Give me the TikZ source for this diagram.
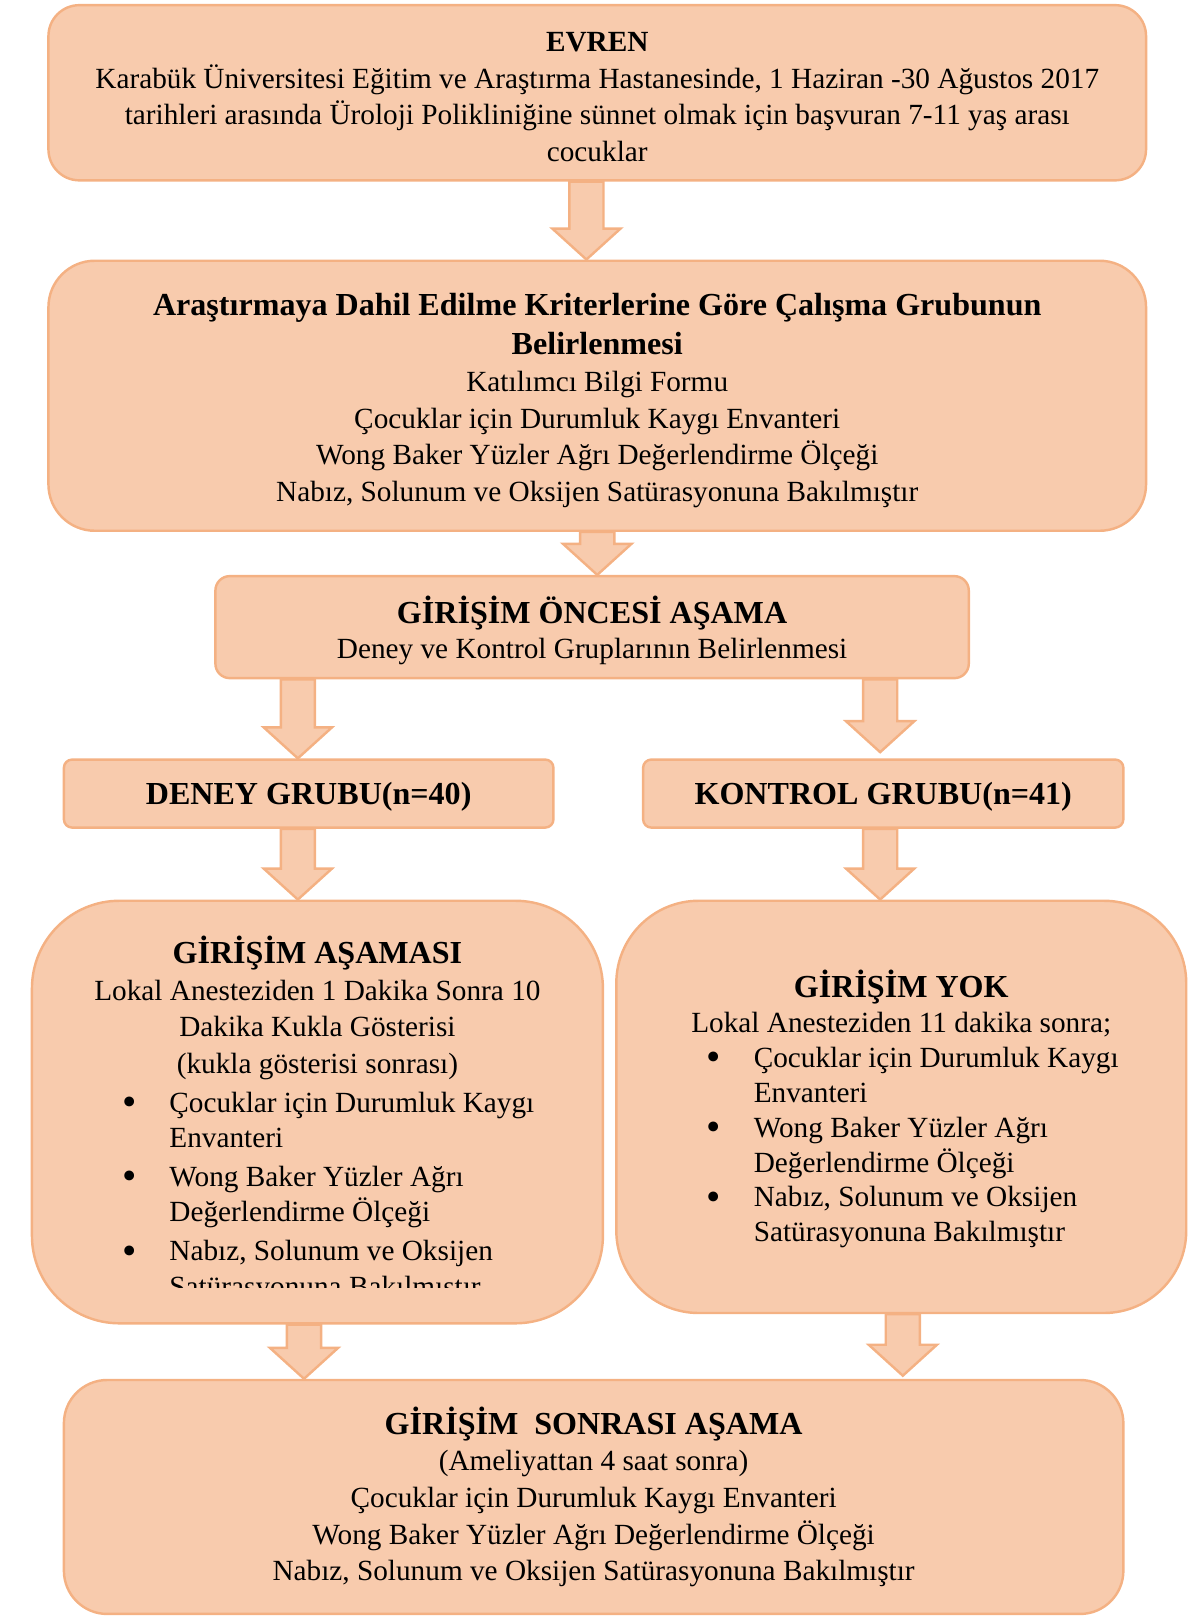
\documentclass[tikz,border=0pt]{standalone}
\usepackage{fontspec}
\setmainfont{Liberation Serif}
\usepackage{tikz}
\usetikzlibrary{calc}
\definecolor{dolgu}{HTML}{F8CBAD}
\definecolor{cizgi}{HTML}{F4B183}
\def\bp{0.4226pt}
\tikzset{
  font={\fontsize{12pt}{15pt}\selectfont}}
\tikzset{
  kutu/.style={draw=cizgi, fill=dolgu, line width=1pt, inner sep=0pt, align=center},
  blokok/.style={draw=cizgi, fill=dolgu, line width=1pt, line join=miter},
  liste/.style={inner sep=0pt, align=left}}
\newcommand{\kalin}[1]{{\bfseries\fontsize{13.15pt}{15pt}\selectfont #1}}
\newcommand{\ust}[1]{\rule{0pt}{#1}}
\newlength{\maddeara}\setlength{\maddeara}{19.4pt}
\newcommand{\madde}[2]{\makebox[\maddeara][l]{\raisebox{-1.4pt}{\scalebox{1.4}{•}}}#1\\\hspace*{\maddeara}#2}
\newcommand{\okciz}[2]{%
  \filldraw[blokok] let \p1=(#1), \p2=(#2) in
    (\x1-7pt,\y1) -- (\x1-7pt,\y2+12.7pt) -- (\x1-14pt,\y2+12.7pt) -- (\x1,\y2)
    -- (\x1+14pt,\y2+12.7pt) -- (\x1+7pt,\y2+12.7pt) -- (\x1+7pt,\y1) -- cycle;}

\begin{document}
\begin{tikzpicture}[x=0.4226pt, y=-0.4226pt]
\useasboundingbox (0,0) rectangle (1162,1568);
\node[kutu, minimum width=1065*\bp, minimum height=170*\bp, rounded corners=30*\bp] (evren) at (579.5,90)
  {\ust{11.3pt}\textbf{EVREN}\\Karabük Üniversitesi Eğitim ve Araştırma Hastanesinde, 1 Haziran -30 Ağustos 2017\\tarihleri arasında Üroloji Polikliniğine sünnet olmak için başvuran 7-11 yaş arası\\cocuklar};
\node[kutu, minimum width=1065*\bp, minimum height=262*\bp, rounded corners=45*\bp] (kriter) at (579.5,384)
  {\ust{13.1pt}\kalin{Araştırmaya Dahil Edilme Kriterlerine Göre Çalışma Grubunun}\\[1pt]\kalin{Belirlenmesi}\\Katılımcı Bilgi Formu\\Çocuklar için Durumluk Kaygı Envanteri\\Wong Baker Yüzler Ağrı Değerlendirme Ölçeği\\Nabız, Solunum ve Oksijen Satürasyonuna Bakılmıştır};
\node[kutu, minimum width=731*\bp, minimum height=99*\bp, rounded corners=14*\bp] (oncesi) at (574.5,608.5)
  {\ust{13.7pt}\kalin{GİRİŞİM ÖNCESİ AŞAMA}\\[-0.6pt]Deney ve Kontrol Gruplarının Belirlenmesi};
\node[kutu, minimum width=475*\bp, minimum height=66*\bp, rounded corners=8*\bp] (deney) at (299.5,770)
  {\ust{11.5pt}\kalin{DENEY GRUBU(n=40)}};
\node[kutu, minimum width=466*\bp, minimum height=66*\bp, rounded corners=8*\bp] (kontrol) at (857,770)
  {\ust{11.5pt}\kalin{KONTROL GRUBU(n=41)}};
\node[kutu, minimum width=554*\bp, minimum height=410*\bp, rounded corners=85*\bp] (asama) at (308,1079) {};
\node[kutu, minimum width=553*\bp, minimum height=400*\bp, rounded corners=80*\bp] (yok) at (874.5,1074) {};
\node[kutu, minimum width=1028*\bp, minimum height=227*\bp, rounded corners=42*\bp] (sonrasi) at (576,1452.5)
  {\kalin{GİRİŞİM~ SONRASI AŞAMA}\\(Ameliyattan 4 saat sonra)\\Çocuklar için Durumluk Kaygı Envanteri\\Wong Baker Yüzler Ağrı Değerlendirme Ölçeği\\Nabız, Solunum ve Oksijen Satürasyonuna Bakılmıştır};

\node[inner sep=0pt, align=center] (asamabas) at (308,978)
  {\kalin{GİRİŞİM AŞAMASI}\\Lokal Anesteziden 1 Dakika Sonra 10\\Dakika Kukla Gösterisi\\(kukla gösterisi sonrası)};
\begin{scope}
\clip (31,874) rectangle (585,1249);
\node[liste, anchor=west, font={\fontsize{12pt}{14.5pt}\selectfont}] (asamaliste) at (118,1161.5)
  {\madde{Çocuklar için Durumluk Kaygı}{Envanteri}\\[1.5pt]\madde{Wong Baker Yüzler Ağrı}{Değerlendirme Ölçeği}\\[1.5pt]\madde{Nabız, Solunum ve Oksijen}{Satürasyonuna Bakılmıştır}};
\end{scope}
\node[inner sep=0pt, align=center] (yokbas) at (874.5,974)
  {\kalin{GİRİŞİM YOK}\\[-0.6pt]Lokal Anesteziden 11 dakika sonra;};
\node[liste, anchor=west, font={\fontsize{12pt}{14.3pt}\selectfont}] (yokliste) at (685,1113.5)
  {\madde{Çocuklar için Durumluk Kaygı}{Envanteri}\\\madde{Wong Baker Yüzler Ağrı}{Değerlendirme Ölçeği}\\\madde{Nabız, Solunum ve Oksijen}{Satürasyonuna Bakılmıştır}};

\okciz{$(evren.south)+(-10.5,0)$}{kriter.north}
\okciz{kriter.south}{oncesi.north}
\okciz{$(oncesi.south -| deney.north)+(-10.5,0)$}{deney.north}
\okciz{$(oncesi.south -| kontrol.north)+(-3,0)$}{$(kontrol.north)+(0,-6)$}
\okciz{$(deney.south)+(-10.5,0)$}{asama.north}
\okciz{$(kontrol.south)+(-3,0)$}{yok.north}
\okciz{$(asama.south)+(-13,0)$}{sonrasi.north}
\okciz{$(yok.south)+(1.5,0)$}{$(sonrasi.north)+(0,-3)$}
\end{tikzpicture}
\end{document}
